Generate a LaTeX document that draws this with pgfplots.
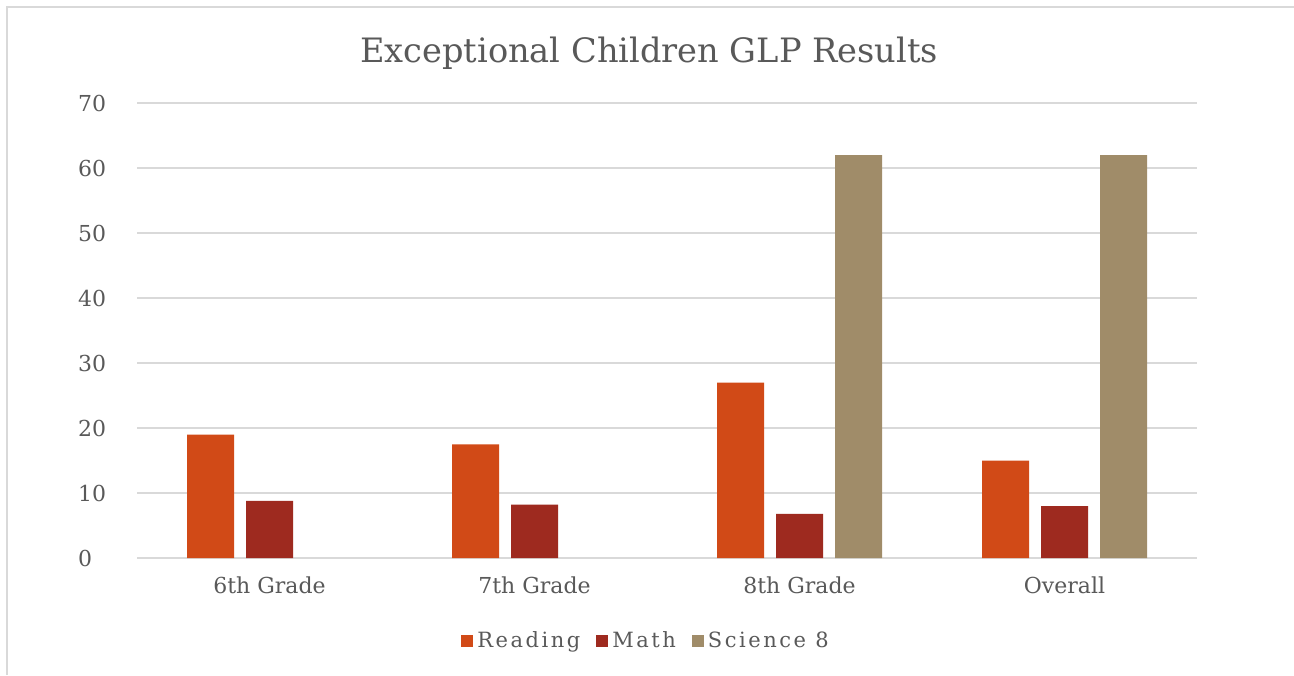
\documentclass[border=0pt]{standalone}
\usepackage{pgfplots}
\pgfplotsset{compat=1.18}
\usepackage{fontspec}
\setmainfont{DejaVu Serif}
\newfontfamily\legendfont[LetterSpace=12]{DejaVu Serif}
\definecolor{txtgray}{HTML}{595959}
\definecolor{gridgray}{HTML}{D9D9D9}
\definecolor{readc}{HTML}{D14A17}
\definecolor{mathc}{HTML}{9E2A1F}
\definecolor{scic}{HTML}{A08C69}

\begin{document}
\begin{tikzpicture}
  % page frame: 1px = 0.5pt
  \fill[white] (0,0) rectangle (647pt,337.5pt);
  \path[use as bounding box] (0,0) rectangle (647pt,337.5pt);
  \draw[gridgray, line width=1.2pt] (3.5pt,0) -- (3.5pt,334pt) -- (647pt,334pt);

  \node[text=txtgray, font=\fontsize{16.8}{20}\selectfont] at (324.5pt,311pt)
    {Exceptional Children GLP Results};

  \begin{axis}[
      at={(68.5pt,58.5pt)}, anchor=south west,
      scale only axis,
      width=530pt, height=227.5pt,
      ybar=6pt, bar width=23.5pt,
      xmin=-0.5, xmax=3.5,
      ymin=0, ymax=70,
      xtick={0,1,2,3},
      xticklabels={6th Grade,7th Grade,8th Grade,Overall},
      ytick={0,10,...,70},
      axis line style={draw=none},
      major tick length=0pt,
      ymajorgrids=true,
      grid style={gridgray, line width=0.8pt},
      tick label style={text=txtgray, font=\fontsize{11}{13}\selectfont},
      /pgf/number format/assume math mode=true,
      xticklabel style={yshift=-6pt},
      yticklabel style={anchor=west, xshift=-33pt},
      legend style={
        at={(255pt,-41.5pt)}, anchor=center,
        draw=none, fill=none,
        legend columns=-1,
        font=\legendfont\fontsize{10.5}{12}\selectfont,
        text=txtgray,
        /tikz/every even column/.append style={column sep=6pt},
      },
      legend cell align=left,
      legend image code/.code={
        \fill[#1] (0pt,-3pt) rectangle (6pt,3pt);
      },
    ]
    \addplot[fill=readc, draw=none] coordinates {(0,19) (1,17.5) (2,27) (3,15)};
    \addlegendentry{Reading}
    \addplot[fill=mathc, draw=none] coordinates {(0,8.8) (1,8.2) (2,6.8) (3,8)};
    \addlegendentry{Math}
    \addplot[fill=scic, draw=none] coordinates {(2,62) (3,62)};
    \addlegendentry{Science 8}
  \end{axis}
\end{tikzpicture}
\end{document}
